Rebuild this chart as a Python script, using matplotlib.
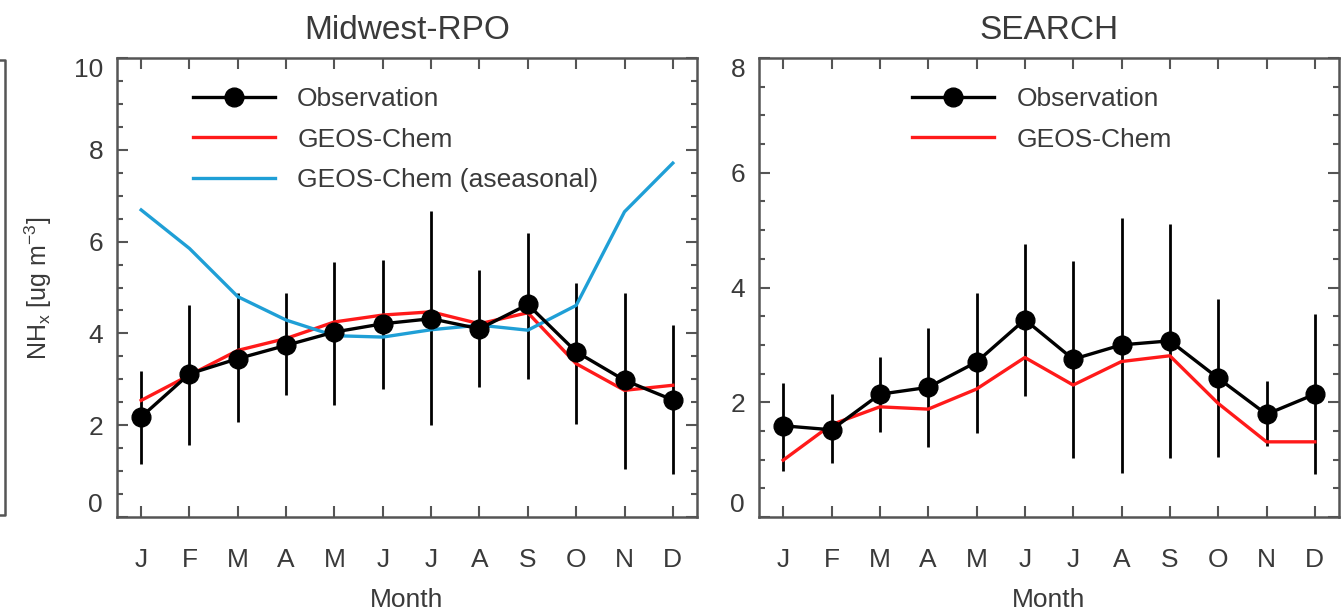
import numpy as np
from matplotlib import pyplot as plt
from matplotlib.lines import Line2D

plt.rcParams['font.family'] = ['Liberation Sans', 'DejaVu Sans']

months = ['J', 'F', 'M', 'A', 'M', 'J', 'J', 'A', 'S', 'O', 'N', 'D']

# Midwest-RPO
mw_obs = [2.18, 3.12, 3.45, 3.74, 4.03, 4.21, 4.32, 4.10, 4.63, 3.60, 2.98, 2.55]
mw_obs_hi = [3.19, 4.61, 4.87, 4.88, 5.56, 5.61, 6.67, 5.38, 6.19, 5.09, 4.87, 4.19]
mw_obs_lo = [1.16, 1.57, 2.08, 2.65, 2.45, 2.79, 2.00, 2.83, 3.00, 2.03, 1.05, 0.94]
mw_gc = [2.54, 3.09, 3.63, 3.89, 4.25, 4.40, 4.47, 4.21, 4.45, 3.34, 2.76, 2.87]
mw_gc_aseas = [6.69, 5.85, 4.80, 4.29, 3.95, 3.92, 4.08, 4.18, 4.07, 4.61, 6.65, 7.71]

# SEARCH
se_obs = [1.59, 1.52, 2.14, 2.26, 2.70, 3.44, 2.75, 3.00, 3.07, 2.42, 1.79, 2.14]
se_obs_hi = [2.34, 2.14, 2.79, 3.29, 3.90, 4.75, 4.47, 5.21, 5.11, 3.80, 2.37, 3.54]
se_obs_lo = [0.80, 0.94, 1.49, 1.22, 1.47, 2.11, 1.02, 0.76, 1.02, 1.04, 1.23, 0.75]
se_gc = [0.99, 1.61, 1.92, 1.88, 2.23, 2.78, 2.30, 2.71, 2.81, 1.98, 1.31, 1.31]

TXT = '#3a3a3a'
AXC = '#555555'
RED = '#ff1a1a'
BLUE = '#1f9fd6'

W, H = 1343, 611
fig = plt.figure(figsize=(W / 100, H / 100), dpi=100)

def px_axes(x0, x1, y0, y1):
    return fig.add_axes([x0 / W, 1 - y1 / H, (x1 - x0) / W, (y1 - y0) / H])

ax1 = px_axes(117, 697, 58, 517)
ax2 = px_axes(759, 1339, 58, 517)

x = np.arange(1, 13)

def draw_panel(ax, obs, lo, hi, gc, ymax, title, aseas=None, leg_x=0.13):
    obs = np.array(obs)
    err = [obs - np.array(lo), np.array(hi) - obs]
    ax.errorbar(x, obs, yerr=err, fmt='none', ecolor='black', elinewidth=2.0,
                capsize=0, zorder=2)
    ax.plot(x, gc, color=RED, lw=2.4, zorder=3, label='GEOS-Chem')
    if aseas is not None:
        ax.plot(x, aseas, color=BLUE, lw=2.4, zorder=3,
                label='GEOS-Chem (aseasonal)')
    ax.plot(x, obs, color='black', lw=2.4, marker='o', ms=13.5, zorder=4,
            label='Observation')

    ax.set_xlim(0.5, 12.5)
    ax.set_ylim(0, ymax)
    ax.set_xticks(x)
    ax.set_xticklabels(months)
    ax.set_yticks(np.arange(0, ymax + 1, 2))
    ax.set_yticks(np.arange(0, ymax + 0.01, 0.5), minor=True)
    ax.tick_params(axis='both', which='both', direction='in', top=True,
                   right=True, colors=AXC, labelcolor=TXT, labelsize=19)
    ax.tick_params(axis='both', which='major', length=8, width=1.5)
    ax.tick_params(axis='y', which='minor', length=4, width=1.5)
    ax.tick_params(axis='x', which='minor', length=0)
    ax.tick_params(axis='x', pad=22)
    ax.tick_params(axis='y', pad=10)
    labs = ax.get_yticklabels()
    labs[0].set_va('bottom')
    labs[-1].set_va('top')
    for s in ax.spines.values():
        s.set_color(AXC)
        s.set_linewidth(1.8)
    ax.set_xlabel('Month', fontsize=19, color=TXT, labelpad=12)
    ax.set_title(title, fontsize=24, color=TXT, pad=14)

    handles, labels = ax.get_legend_handles_labels()
    order = [len(handles) - 1] + list(range(len(handles) - 1))
    ax.legend([handles[i] for i in order], [labels[i] for i in order],
              loc='upper left', bbox_to_anchor=(leg_x, 0.937), frameon=False,
              fontsize=19, labelcolor=TXT, handlelength=3.1,
              handletextpad=0.85, labelspacing=0.63, borderpad=0,
              borderaxespad=0, numpoints=1)

draw_panel(ax1, mw_obs, mw_obs_lo, mw_obs_hi, mw_gc, 10, 'Midwest-RPO',
           aseas=mw_gc_aseas, leg_x=0.131)
draw_panel(ax2, se_obs, se_obs_lo, se_obs_hi, se_gc, 8, 'SEARCH', leg_x=0.264)

fig.text(38 / W, 1 - 288 / H, r'NH$_{\mathregular{x}}$ [ug m$^{\mathregular{-3}}$]',
         rotation=90, ha='center', va='center', fontsize=18, color=TXT)

# edge of the neighbouring panel, cut off at the left
bx = [0, 5 / W, 5 / W, 0]
by = [1 - 60 / H, 1 - 60 / H, 1 - 515 / H, 1 - 515 / H]
fig.add_artist(Line2D(bx, by, color=AXC, lw=1.8, transform=fig.transFigure))

plt.savefig('out.png', dpi=100)
